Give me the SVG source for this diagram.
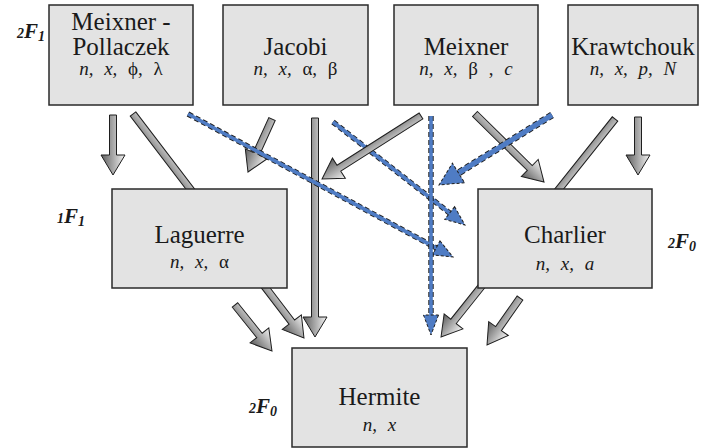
<svg xmlns="http://www.w3.org/2000/svg" width="705" height="448" viewBox="0 0 705 448">
  <defs>
    <linearGradient id="shade" x1="0" y1="0" x2="0" y2="1">
      <stop offset="0" stop-color="#f2f2f2"/>
      <stop offset="1" stop-color="#5e5e5e"/>
    </linearGradient>
    <style>
      .box { fill: #e3e3e3; stroke: #2a2a2a; stroke-width: 1.5; }
      .name { font-size: 25px; fill: #1a1a1a; text-anchor: middle; }
      .par { font-size: 19px; font-style: italic; fill: #1a1a1a; text-anchor: middle; word-spacing: 6px; }
      .gr { font-style: normal; }
      .hyp { font-weight: bold; font-style: italic; fill: #1a1a1a; }
      .hyp .F { font-size: 21px; }
      .hyp .s { font-size: 14px; }
      .garrow { fill: url(#shade); stroke: #1e1e1e; stroke-width: 1; }
      .bedge { stroke: #1e1e1e; stroke-width: 5.4; stroke-dasharray: 5 3; fill: none; }
      .bcore { stroke: #4f7cc4; stroke-width: 3.6; fill: none; }
      .bhead { fill: #4f7cc4; stroke: #1e1e1e; stroke-width: 1; stroke-dasharray: 3 2; }
    </style>
  </defs>

  <!-- connectors: gray block arrows (shaft half-width 3.5, head 20 long) and blue dashed arrows -->
  <g id="connectors">
    <!-- Meixner-Pollaczek -> Laguerre -->
    <polygon class="garrow" transform="translate(113,115) rotate(90)" points="0,-3.5 40,-3.5 40,-12 60,0 40,12 40,3.5 0,3.5"/>
    <!-- Meixner-Pollaczek -> Hermite (passes behind Laguerre) -->
    <polygon class="garrow" transform="translate(133,114) rotate(52.65)" points="0,-3.5 261.8,-3.5 261.8,-12 281.8,0 261.8,12 261.8,3.5 0,3.5"/>
    <!-- Jacobi -> Laguerre -->
    <polygon class="garrow" transform="translate(272,119) rotate(114.36)" points="0,-3.5 38.2,-3.5 38.2,-12 58.2,0 38.2,12 38.2,3.5 0,3.5"/>
    <!-- Jacobi -> Hermite -->
    <polygon class="garrow" transform="translate(315,118) rotate(90)" points="0,-3.5 199,-3.5 199,-12 219,0 199,12 199,3.5 0,3.5"/>
    <!-- Meixner -> Charlier -->
    <polygon class="garrow" transform="translate(475,114) rotate(44.58)" points="0,-3.5 76.9,-3.5 76.9,-12 96.9,0 76.9,12 76.9,3.5 0,3.5"/>
    <!-- Krawtchouk -> Charlier -->
    <polygon class="garrow" transform="translate(638,117) rotate(90)" points="0,-3.5 38,-3.5 38,-12 58,0 38,12 38,3.5 0,3.5"/>
    <!-- Krawtchouk -> Hermite (passes behind Charlier) -->
    <polygon class="garrow" transform="translate(615,119) rotate(128.59)" points="0,-3.5 258.9,-3.5 258.9,-12 278.9,0 258.9,12 258.9,3.5 0,3.5"/>
    <!-- Laguerre -> Hermite -->
    <polygon class="garrow" transform="translate(235,305) rotate(51.19)" points="0,-3.5 39,-3.5 39,-12 59,0 39,12 39,3.5 0,3.5"/>
    <!-- Charlier -> Hermite -->
    <polygon class="garrow" transform="translate(520,298) rotate(125.07)" points="0,-3.5 37.4,-3.5 37.4,-12 57.4,0 37.4,12 37.4,3.5 0,3.5"/>

    <!-- Meixner-Pollaczek -> Charlier (dashed) -->
    <g transform="translate(188,114) rotate(28.35)">
      <line class="bedge" x1="0" y1="0" x2="284" y2="0"/>
      <line class="bcore" x1="0" y1="0" x2="284" y2="0"/>
      <polygon class="bhead" points="282,-8 301.1,0 282,8"/>
    </g>
    <!-- Jacobi -> Charlier (dashed) -->
    <g transform="translate(333,122) rotate(37.97)">
      <line class="bedge" x1="0" y1="0" x2="150" y2="0"/>
      <line class="bcore" x1="0" y1="0" x2="150" y2="0"/>
      <polygon class="bhead" points="148,-8 167.4,0 148,8"/>
    </g>
    <!-- Meixner -> Laguerre -->
    <polygon class="garrow" transform="translate(421,116) rotate(147.53)" points="0,-3.5 97.3,-3.5 97.3,-12 117.3,0 97.3,12 97.3,3.5 0,3.5"/>
    <!-- Meixner -> Hermite (dashed) -->
    <g transform="translate(431,116) rotate(90)">
      <line class="bedge" x1="0" y1="0" x2="201" y2="0"/>
      <line class="bcore" x1="0" y1="0" x2="201" y2="0"/>
      <polygon class="bhead" points="199,-7.5 219,0 199,7.5"/>
    </g>
    <!-- Krawtchouk -> Meixner line (dashed) -->
    <g transform="translate(552,115) rotate(148.22)">
      <line class="bedge" x1="0" y1="0" x2="112" y2="0" style="stroke-width:7"/>
      <line class="bcore" x1="0" y1="0" x2="112" y2="0" style="stroke-width:5.2"/>
      <polygon class="bhead" points="110,-11.5 132.9,0 110,11.5"/>
    </g>
  </g>

  <g font-family="'Liberation Serif', 'Times New Roman', 'DejaVu Serif', serif">
    <!-- hypergeometric type labels -->
    <text class="hyp" x="17" y="38"><tspan class="s">2</tspan><tspan class="F">F</tspan><tspan class="s" dy="3">1</tspan></text>
    <text class="hyp" x="57" y="223"><tspan class="s">1</tspan><tspan class="F">F</tspan><tspan class="s" dy="3">1</tspan></text>
    <text class="hyp" x="668" y="248"><tspan class="s">2</tspan><tspan class="F">F</tspan><tspan class="s" dy="3">0</tspan></text>
    <text class="hyp" x="249" y="413"><tspan class="s">2</tspan><tspan class="F">F</tspan><tspan class="s" dy="3">0</tspan></text>

    <g id="meixner-pollaczek">
      <rect class="box" x="49" y="5" width="144" height="100"/>
      <text class="name" x="121" y="30">Meixner -</text>
      <text class="name" x="121" y="55">Pollaczek</text>
      <text class="par" x="121" y="75">n, x, <tspan class="gr">ϕ,</tspan> <tspan class="gr">λ</tspan></text>
    </g>
    <g id="jacobi">
      <rect class="box" x="223" y="5" width="145" height="100"/>
      <text class="name" x="295.5" y="55">Jacobi</text>
      <text class="par" x="295.5" y="75">n, x, <tspan class="gr">α,</tspan> <tspan class="gr">β</tspan></text>
    </g>
    <g id="meixner">
      <rect class="box" x="394" y="5" width="144" height="100"/>
      <text class="name" x="466" y="55">Meixner</text>
      <text class="par" x="466" y="75">n, x, <tspan class="gr">β ,</tspan> c</text>
    </g>
    <g id="krawtchouk">
      <rect class="box" x="568" y="5" width="130" height="100"/>
      <text class="name" x="633" y="55">Krawtchouk</text>
      <text class="par" x="633" y="75">n, x, p, N</text>
    </g>
    <g id="laguerre">
      <rect class="box" x="112" y="189" width="175" height="99"/>
      <text class="name" x="199.5" y="243">Laguerre</text>
      <text class="par" x="199.5" y="268">n, x, <tspan class="gr">α</tspan></text>
    </g>
    <g id="charlier">
      <rect class="box" x="478" y="189" width="174" height="99"/>
      <text class="name" x="565" y="243">Charlier</text>
      <text class="par" x="565" y="270">n, x, a</text>
    </g>
    <g id="hermite">
      <rect class="box" x="292" y="348" width="175" height="99"/>
      <text class="name" x="379.5" y="405">Hermite</text>
      <text class="par" x="379.5" y="431">n, x</text>
    </g>
  </g>
</svg>
